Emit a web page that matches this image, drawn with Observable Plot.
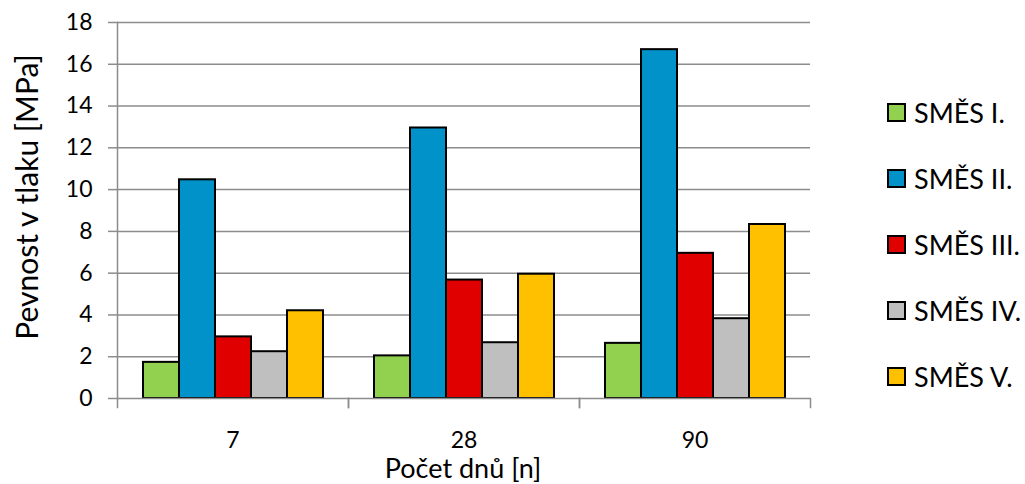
<!DOCTYPE html>
<html><head><meta charset="utf-8">
<script src="https://cdn.jsdelivr.net/npm/d3@7"></script>
<script src="https://cdn.jsdelivr.net/npm/@observablehq/plot@0.6"></script>
<style>
body{margin:0;background:#fff;}
#wrap{position:relative;width:1025px;height:484px;font-family:Lato,sans-serif;color:#000;overflow:hidden;}
#legend{position:absolute;left:887px;top:0;}
.item{position:absolute;left:0;display:flex;align-items:center;white-space:nowrap;font-size:27px;}
.sw{width:15px;height:15px;border:2px solid #000;margin-right:8px;}
.ytitle{position:absolute;left:26px;top:197px;transform:translate(-50%,-50%) rotate(-90deg);font-size:30px;white-space:nowrap;line-height:1;}
.xtitle{position:absolute;left:463px;top:467px;transform:translate(-50%,-50%);font-size:27px;white-space:nowrap;line-height:1;}
</style></head><body><div id="wrap"></div>
<script>
const days = ["7", "28", "90"];
const series = ["SMĚS I.", "SMĚS II.", "SMĚS III.", "SMĚS IV.", "SMĚS V."];
const colors = ["#92d050", "#0092c8", "#e00000", "#bfbfbf", "#ffc000"];
const smes1 = [1.73, 2.04, 2.64];
const smes2 = [10.47, 12.95, 16.7];
const smes3 = [2.95, 5.67, 6.95];
const smes4 = [2.24, 2.67, 3.82];
const smes5 = [4.2, 5.95, 8.33];
const yTicks = [0, 2, 4, 6, 8, 10, 12, 14, 16, 18];
const yTitle = "Pevnost v tlaku [MPa]";
const xTitle = "Počet dnů [n]";

const values = [smes1, smes2, smes3, smes4, smes5];
const data = [];
days.forEach((d, i) => series.forEach((s, j) => data.push({day: d, series: s, value: values[j][i]})));

const W = 1025, H = 484, mL = 117, mR = 215, mT = 22, mB = 86;
const gray = "#8c8c8c";
const chart = Plot.plot({
  width: W, height: H, marginLeft: mL, marginRight: mR, marginTop: mT, marginBottom: mB,
  style: {fontFamily: "Lato, sans-serif", background: "#fff", color: "#000", overflow: "visible"},
  fx: {domain: days, padding: 0, label: null, axis: null},
  x: {domain: series, paddingInner: 0, paddingOuter: 0.7, axis: null},
  y: {domain: [0, 18], axis: null},
  color: {domain: series, range: colors},
  marks: [
    Plot.gridY(yTicks.slice(1), {stroke: gray, strokeOpacity: 1, strokeWidth: 1.5}),
    Plot.barY(data, {fx: "day", x: "series", y: "value", fill: "series", stroke: "#000", strokeWidth: 2}),
    Plot.ruleY([0], {stroke: gray, strokeWidth: 1.5}),
    Plot.axisY(yTicks, {tickSize: 9, tickPadding: 16, stroke: gray, strokeWidth: 1.5, fontSize: 23, label: null}),
    Plot.frame({anchor: "left", facet: "super", stroke: gray, strokeWidth: 1.5}),
    Plot.frame({anchor: "left", insetTop: H - mT - mB, insetBottom: -9, stroke: gray, strokeWidth: 1.5}),
    Plot.frame({anchor: "right", insetTop: H - mT - mB, insetBottom: -9, stroke: gray, strokeWidth: 1.5}),
    Plot.axisFx({anchor: "bottom", tickSize: 0, tickPadding: 33, fontSize: 23, label: null})
  ]
});
const wrap = document.getElementById("wrap");
wrap.appendChild(chart);

const yt = document.createElement("div"); yt.className = "ytitle"; yt.textContent = yTitle; wrap.appendChild(yt);
const xt = document.createElement("div"); xt.className = "xtitle"; xt.textContent = xTitle; wrap.appendChild(xt);
const legend = document.createElement("div"); legend.id = "legend"; wrap.appendChild(legend);
series.forEach((s, j) => {
  const it = document.createElement("div"); it.className = "item";
  it.style.top = (112 + j * 66 - 18) + "px";
  it.style.height = "36px";
  const sw = document.createElement("div"); sw.className = "sw"; sw.style.background = colors[j];
  const tx = document.createElement("span"); tx.textContent = s;
  it.appendChild(sw); it.appendChild(tx); legend.appendChild(it);
});
</script>
</body></html>
